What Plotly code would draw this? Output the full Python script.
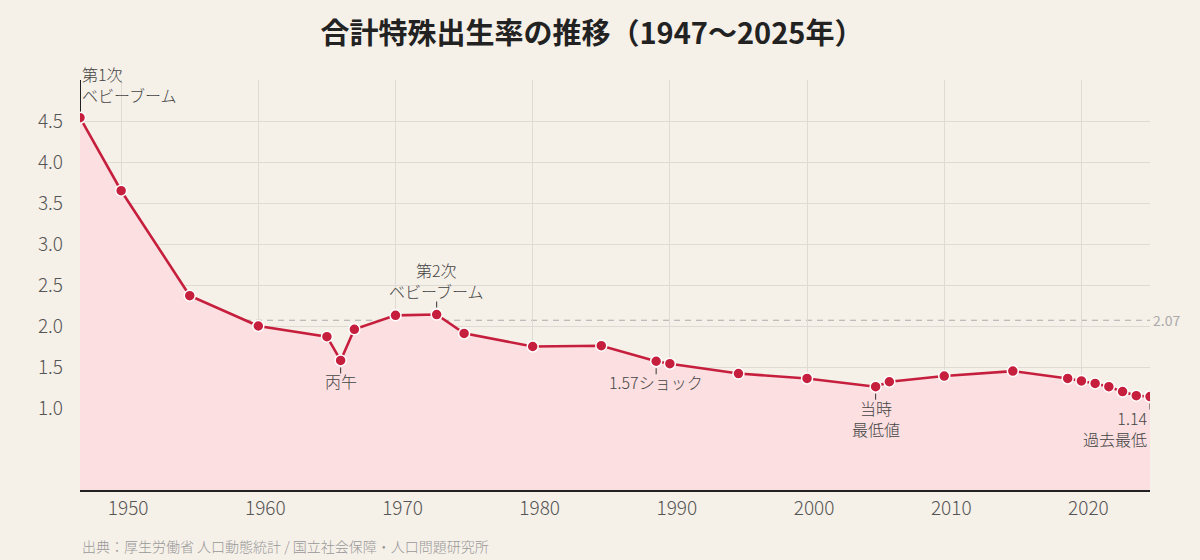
import plotly.graph_objects as go

# ---- data ----
years = [1947, 1950, 1955, 1960, 1965, 1966, 1967, 1970, 1973, 1975, 1980, 1985,
         1989, 1990, 1995, 2000, 2005, 2006, 2010, 2015, 2019, 2020, 2021, 2022,
         2023, 2024, 2025]
tfr = [4.54, 3.65, 2.37, 2.00, 1.87, 1.58, 1.96, 2.13, 2.14, 1.91, 1.75, 1.76,
       1.57, 1.54, 1.42, 1.36, 1.26, 1.32, 1.39, 1.45, 1.36, 1.33, 1.30, 1.26,
       1.20, 1.15, 1.14]

replacement_level = 2.07
x_ticks = [1950, 1960, 1970, 1980, 1990, 2000, 2010, 2020]
y_ticks = [1.0, 1.5, 2.0, 2.5, 3.0, 3.5, 4.0, 4.5]
y_tick_text = ["1.0", "1.5", "2.0", "2.5", "3.0", "3.5", "4.0", "4.5"]

# callouts: (year, text)
callout_above = [(1973, "第2次<br>ベビーブーム")]
callout_below = [(1966, "丙午"), (1989, "1.57ショック"), (2005, "当時<br>最低値")]
first_boom = (1947, "第1次<br>ベビーブーム")
record_low = (2025, "1.14<br>過去最低")

title = "合計特殊出生率の推移（1947〜2025年）"
source = "出典：厚生労働省 人口動態統計 / 国立社会保障・人口問題研究所"

BG = "#f5f0e8"
RED = "#c61f3d"
PINK = "#fbdfe1"
TXT = "#444444"
FONT = "Noto Sans CJK JP"

val = dict(zip(years, tfr))

fig = go.Figure()
fig.add_trace(go.Scatter(
    x=years, y=tfr, mode="lines+markers",
    line=dict(color=RED, width=2.6),
    marker=dict(size=11, color=RED, line=dict(color="white", width=1.5)),
    fill="tozeroy", fillcolor=PINK, hoverinfo="skip", showlegend=False,
))

shapes = [dict(type="line", xref="paper", x0=0, x1=1, yref="y",
               y0=replacement_level, y1=replacement_level, layer="between",
               line=dict(color="#aaaaaa", width=1, dash="6px,5px"))]


def tick_line(yr, up):
    s = 1 if up else -1
    return dict(type="line", xref="x", x0=yr, x1=yr, yref="y", ysizemode="pixel",
                yanchor=val[yr], y0=s * 7, y1=s * 13, layer="above",
                line=dict(color="#333333", width=1))


annotations = []
annotations.append(dict(xref="paper", x=1, y=replacement_level, text=f"{replacement_level:.2f}",
                        showarrow=False, xanchor="left", yanchor="middle", xshift=1,
                        font=dict(size=14, color="#aaaaaa", family=FONT)))

# first baby boom: tall line up to top of plot
fx, ftxt = first_boom
shapes.append(dict(type="line", xref="x", x0=fx, x1=fx, yref="y", y0=val[fx], y1=5.0,
                   layer="between", line=dict(color="#222222", width=2)))
annotations.append(dict(x=fx, y=5.0, text=ftxt, showarrow=False, xanchor="left",
                        yanchor="middle", yshift=-4, xshift=0, align="left",
                        font=dict(size=16, color=TXT, family=FONT, weight=300)))

for yr, txt in callout_above:
    shapes.append(tick_line(yr, True))
    annotations.append(dict(x=yr, y=val[yr], text=txt, showarrow=False, xanchor="center",
                            yanchor="bottom", yshift=10, align="center",
                            font=dict(size=16, color=TXT, family=FONT, weight=300)))

for yr, txt in callout_below:
    shapes.append(tick_line(yr, False))
    annotations.append(dict(x=yr, y=val[yr], text=txt, showarrow=False, xanchor="center",
                            yanchor="top", yshift=-7, align="center",
                            font=dict(size=16, color=TXT, family=FONT, weight=300)))

rx, rtxt = record_low
shapes.append(tick_line(rx, False))
annotations.append(dict(x=rx, y=val[rx], text=rtxt, showarrow=False, xanchor="right",
                        yanchor="top", yshift=-7, xshift=-1, align="right",
                        font=dict(size=16, color=TXT, family=FONT, weight=300)))

annotations.append(dict(xref="paper", yref="paper", x=0, y=0, yshift=-56,
                        text=source, showarrow=False, xanchor="left", yanchor="middle",
                        font=dict(size=14, color="#999999", family=FONT, weight=300)))

fig.update_layout(
    width=1200, height=560,
    paper_bgcolor=BG, plot_bgcolor=BG,
    margin=dict(l=80, r=50, t=80, b=70),
    title=dict(text=title, x=0.4933, xanchor="center", y=0.94, yanchor="middle",
               font=dict(size=29, color="#222222", family=FONT, weight="bold")),
    font=dict(family=FONT, color=TXT),
    shapes=shapes, annotations=annotations,
    xaxis=dict(range=[1947, 2025], tickvals=x_ticks, showgrid=True, gridcolor="#dedad4",
               gridwidth=1, zeroline=False, showline=True, linecolor="#222222", linewidth=1.5,
               ticks="", tickfont=dict(size=19, color="#555555", family=FONT, weight=300),
               ticklabelshift=7, ticklabelstandoff=0),
    yaxis=dict(range=[0, 5], tickvals=y_ticks, ticktext=y_tick_text, showgrid=True,
               gridcolor="#dedad4", gridwidth=1, zeroline=False, showline=False, ticks="",
               tickfont=dict(size=19, color="#555555", family=FONT, weight=300),
               ticklabelstandoff=16),
)

fig.write_html("out.html")
